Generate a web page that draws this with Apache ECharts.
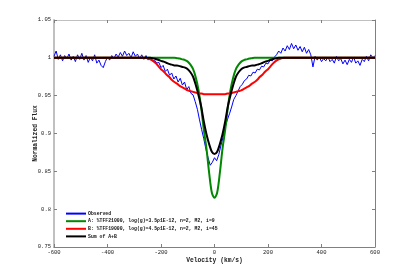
<!DOCTYPE html>
<html>
<head>
<meta charset="utf-8">
<script src="https://cdn.jsdelivr.net/npm/echarts@6/dist/echarts.min.js"></script>
<style>html,body{margin:0;padding:0;background:#fff;}#chart{width:415px;height:277px;}</style>
</head>
<body>
<div id="chart"></div>
<script>
// Observed spectrum: velocity -600..600 step 8 km/s
const obsVelStart = -600, obsVelStep = 8;
const observedFlux = [
1.002,1.009,0.998,1.004,0.996,1.003,0.999,1.005,0.997,1.002,
0.995,1.004,0.998,1.006,0.997,1.003,0.994,1.001,0.996,1.004,
0.993,0.997,0.990,0.987,0.995,1.001,0.997,1.003,0.999,1.005,
1.001,1.007,1.002,1.009,1.003,1.006,1.000,1.008,1.002,1.005,
0.999,1.004,0.998,1.003,0.997,1.001,0.996,0.997,0.993,0.994,
0.987,0.990,0.982,0.985,0.977,0.980,0.972,0.976,0.968,0.973,
0.964,0.968,0.958,0.962,0.953,0.951,0.942,0.932,0.918,0.905,
0.893,0.879,0.868,0.858,0.862,0.868,0.864,0.872,0.884,0.895,
0.908,0.918,0.926,0.935,0.945,0.950,0.956,0.962,0.965,0.970,
0.972,0.977,0.976,0.981,0.980,0.985,0.984,0.989,0.988,0.993,
0.992,0.997,0.996,1.001,1.004,1.009,1.006,1.013,1.009,1.016,
1.011,1.019,1.012,1.017,1.010,1.015,1.008,1.014,1.006,1.011,
1.004,0.988,1.002,0.997,1.001,0.995,0.999,0.996,1.001,0.995,
0.998,0.993,1.002,0.996,0.999,0.992,0.997,0.991,0.998,0.994,
1.001,0.993,0.996,0.990,0.998,0.995,1.002,0.996,1.004,1.000,
1.003
];
// Model grid
const modelVel = [-600,-300,-290,-280,-270,-260,-250,-240,-230,-220,-210,-200,-190,-180,-170,-160,-150,-140,-130,-120,-110,-100,-90,-80,-70,-60,-50,-40,-30,-20,-10,0,
10,20,30,40,50,60,70,80,90,100,110,120,130,140,150,160,170,180,190,200,210,220,230,240,250,260,270,280,290,300,600];
const modelA = [1.0,1.0,1.0,1.0,1.0,1.0,1.0,1.0,1.0,1.0,1.0,1.0,1.0,1.0,1.0,1.0,1.0,0.9995,0.999,0.998,0.997,0.995,0.991,0.985,0.974,0.958,0.935,0.905,0.880,0.848,0.822,0.815,
0.822,0.848,0.880,0.905,0.935,0.958,0.974,0.985,0.991,0.995,0.997,0.998,0.999,0.9995,1.0,1.0,1.0,1.0,1.0,1.0,1.0,1.0,1.0,1.0,1.0,1.0,1.0,1.0,1.0,1.0,1.0];
const modelB = [1.0,1.0,1.0,1.0,1.0,1.0,0.9995,0.998,0.996,0.993,0.989,0.985,0.982,0.978,0.975,0.971,0.968,0.966,0.963,0.961,0.959,0.957,0.956,0.955,0.954,0.953,0.953,0.952,0.952,0.952,0.952,0.952,
0.952,0.952,0.952,0.952,0.953,0.953,0.954,0.955,0.956,0.957,0.959,0.961,0.963,0.966,0.968,0.971,0.975,0.978,0.982,0.985,0.989,0.993,0.996,0.998,0.9995,1.0,1.0,1.0,1.0,1.0,1.0];
const modelSum = [1.0,1.0,1.0,1.0,1.0,1.0,1.0,1.0,0.9993,0.9985,0.9975,0.996,0.995,0.9935,0.992,0.991,0.990,0.990,0.989,0.988,0.987,0.985,0.981,0.975,0.964,0.951,0.936,0.916,0.899,0.886,0.876,0.873,
0.876,0.886,0.899,0.916,0.936,0.951,0.964,0.975,0.981,0.985,0.987,0.988,0.989,0.990,0.990,0.991,0.992,0.9935,0.995,0.996,0.9975,0.9985,0.9993,1.0,1.0,1.0,1.0,1.0,1.0,1.0,1.0];
const seriesNames = [
  'Observed',
  'A: %TFF21000, log(g)=3.5ρ1E-12, n=2, M2, i=9',
  'B: %TFF19000, log(g)=4.5ρ1E-12, n=2, M2, i=45',
  'Sum of A+B'
];
const xTicks = {min: -600, max: 600, interval: 200};
const yTicks = {min: 0.75, max: 1.05, interval: 0.05};

const obsData = observedFlux.map((f, i) => [obsVelStart + i * obsVelStep, f]);
const pair = arr => modelVel.map((v, i) => [v, arr[i]]);

const mono = 'Liberation Mono';
const chart = echarts.init(document.getElementById('chart'), null, {renderer: 'canvas'});
const tickLabel = {fontFamily: mono, fontSize: 5.5, color: '#222'};
chart.setOption({
  animation: false,
  backgroundColor: '#fff',
  grid: {left: 54, right: 40, top: 20, bottom: 30},
  legend: {
    orient: 'vertical', left: 66, top: 211,
    icon: 'rect', padding: 0,
    itemWidth: 20, itemHeight: 2, itemGap: 2.4,
    textStyle: {fontFamily: mono, fontSize: 4.8, lineHeight: 5.2, fontWeight: 'bold', color: '#111', padding: [0,0,0,-3]},
    data: seriesNames
  },
  xAxis: [{
    type: 'value', min: xTicks.min, max: xTicks.max, interval: xTicks.interval,
    name: 'Velocity (km/s)', nameLocation: 'middle', nameGap: 10, nameMoveOverlap: false,
    nameTextStyle: {fontFamily: mono, fontSize: 6.3, fontWeight: 'bold', color: '#222'},
    axisLine: {onZero: false, lineStyle: {color: '#808080', width: 1}},
    axisTick: {inside: true, length: 3, lineStyle: {color: '#808080'}},
    axisLabel: Object.assign({margin: 3}, tickLabel),
    splitLine: {show: false}
  }, {
    type: 'value', position: 'top', min: xTicks.min, max: xTicks.max, interval: xTicks.interval,
    axisLine: {show: true, onZero: false, lineStyle: {color: '#c0c0c0', width: 1}},
    axisTick: {inside: true, length: 3, lineStyle: {color: '#808080'}},
    axisLabel: {show: false}, splitLine: {show: false}
  }],
  yAxis: [{
    type: 'value', min: yTicks.min, max: yTicks.max, interval: yTicks.interval,
    name: 'Normalized Flux', nameLocation: 'middle', nameGap: 16, nameMoveOverlap: false,
    nameTextStyle: {fontFamily: mono, fontSize: 6.3, fontWeight: 'bold', color: '#222'},
    axisLine: {show: true, onZero: false, lineStyle: {color: '#c0c0c0', width: 2}},
    axisTick: {show: true, inside: true, length: 3, lineStyle: {color: '#808080'}},
    axisLabel: Object.assign({margin: 3}, tickLabel),
    splitLine: {show: false}
  }, {
    type: 'value', position: 'right', min: yTicks.min, max: yTicks.max, interval: yTicks.interval,
    axisLine: {show: true, onZero: false, lineStyle: {color: '#808080', width: 1}},
    axisTick: {show: true, inside: true, length: 3, lineStyle: {color: '#808080'}},
    axisLabel: {show: false}, splitLine: {show: false}
  }],
  series: [
    {name: seriesNames[0], type: 'line', data: obsData, symbol: 'none', lineStyle: {color: '#0000ff', width: 1}, itemStyle: {color: '#0000ff'}},
    {name: seriesNames[1], type: 'line', data: pair(modelA), symbol: 'none', smooth: 0.3, lineStyle: {color: '#008800', width: 2}, itemStyle: {color: '#008800'}},
    {name: seriesNames[2], type: 'line', data: pair(modelB), symbol: 'none', smooth: 0.3, lineStyle: {color: '#ff0000', width: 2}, itemStyle: {color: '#ff0000'}},
    {name: seriesNames[3], type: 'line', data: pair(modelSum), symbol: 'none', smooth: 0.3, lineStyle: {color: '#000000', width: 2}, itemStyle: {color: '#000000'}}
  ]
});
</script>
</body>
</html>
